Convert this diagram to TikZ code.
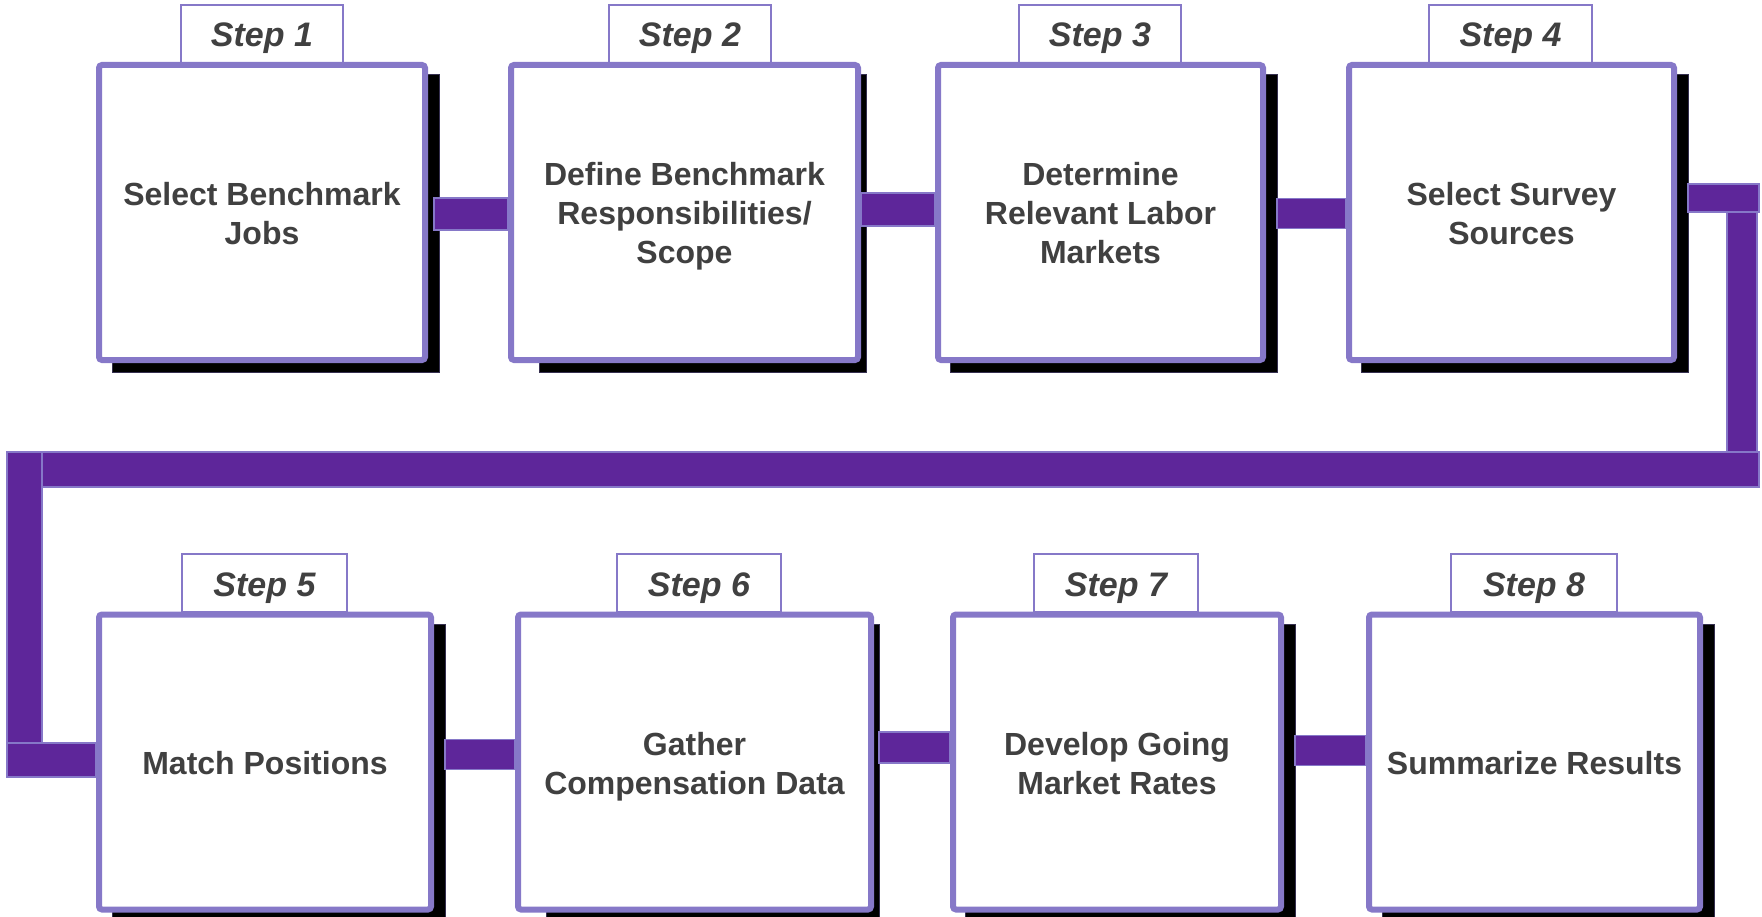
\documentclass[tikz,border=0pt]{standalone}
\usepackage{fontspec}
\setmainfont{Liberation Sans}
\usetikzlibrary{calc,backgrounds}
\definecolor{frame}{RGB}{134,120,200}
\definecolor{barfill}{RGB}{94,38,154}
\definecolor{ink}{RGB}{64,64,64}
% fixed line extent so every box centres its lines alike
\newcommand\ls{\rule[-7pt]{0pt}{39pt}}
\tikzset{
  stepbox/.style={draw=frame, line width=6pt, fill=white, rounded corners=3pt,
    minimum height=295pt, text=ink, align=center, inner sep=0pt,
    font=\bfseries\fontsize{32}{39}\selectfont},
  steptab/.style={draw=frame, line width=2pt, fill=white, minimum height=58pt,
    text=ink, inner sep=0pt, text height=26pt, text depth=0pt,
    font=\bfseries\itshape\fontsize{34}{40}\selectfont},
  shadowbox/.style={fill=black, draw=black!60!frame, line width=1pt},
  bar/.style={fill=barfill, draw=frame, line width=1.2pt},
}
\begin{document}
\begin{tikzpicture}[x=1pt, y=-1pt]
\useasboundingbox (0,0) rectangle (1762,917);

% tabs above each step box
\node[steptab, minimum width=162pt] (t1) at (262,34) {Step 1};
\node[steptab, minimum width=162pt] (t2) at (690,34) {Step 2};
\node[steptab, minimum width=162pt] (t3) at (1100,34) {Step 3};
\node[steptab, minimum width=163pt] (t4) at (1510.5,34) {Step 4};
\node[steptab, minimum width=165pt] (t5) at (264.5,583) {Step 5};
\node[steptab, minimum width=164pt] (t6) at (699,583) {Step 6};
\node[steptab, minimum width=164pt] (t7) at (1116,583) {Step 7};
\node[steptab, minimum width=166pt] (t8) at (1534,583) {Step 8};

% step boxes, top row
\node[stepbox, minimum width=326pt] (b1) at (262,212.5) {\ls Select Benchmark\\Jobs\ls};
\node[stepbox, minimum width=347pt] (b2) at (684.5,212.5) {\ls Define Benchmark\\Responsibilities/\\Scope\ls};
\node[stepbox, minimum width=325pt] (b3) at (1100.5,212.5) {\ls Determine\\Relevant Labor\\Markets\ls};
\node[stepbox, minimum width=325pt] (b4) at (1511.5,212.5) {\ls Select Survey\\Sources\ls};
% step boxes, bottom row
\node[stepbox, minimum width=332pt] (b5) at (265,762) {\ls Match Positions\ls};
\node[stepbox, minimum width=353pt] (b6) at (694.5,762) {\ls Gather\\Compensation Data\ls};
\node[stepbox, minimum width=328pt] (b7) at (1117,762) {\ls Develop Going\\Market Rates\ls};
\node[stepbox, minimum width=331pt] (b8) at (1534.5,762) {\ls Summarize Results\ls};

% drop shadows behind the boxes (left inset / right overhang per box)
\begin{pgfonlayer}{background}
  \foreach \b/\l/\r in {b1/16/11, b2/31/5, b3/15/11, b4/15/11,
                        b5/16/11, b6/31/5, b7/15/11, b8/16/11}
    \draw[shadowbox] ($(\b.north west)+(\l,13)$) rectangle ($(\b.south east)+(\r,9)$);
\end{pgfonlayer}

% connectors between neighbouring boxes
\draw[bar] ($(b1.east)+(6,-14.5)$) rectangle ($(b2.west)+(0,17.5)$);
\draw[bar] ($(b2.east)+(0.5,-19.5)$) rectangle ($(b3.west)+(0,13.5)$);
\draw[bar] ($(b3.east)+(11,-14)$) rectangle ($(b4.west)+(0,16)$);
\draw[bar] ($(b5.east)+(11,-22.5)$) rectangle ($(b6.west)+(0,7.5)$);
\draw[bar] ($(b6.east)+(5,-30)$) rectangle ($(b7.west)+(0,1)$);
\draw[bar] ($(b7.east)+(11,-26.5)$) rectangle ($(b8.west)+(0,3.5)$);

% return line from step 4 down to step 5
\coordinate (rtop) at (1759,184);
\coordinate (rdown) at (1727,212);
\coordinate (lane) at (7,452);
\coordinate (laneend) at (1759,487);
\coordinate (ldown) at (42,743);
\draw[bar] ($(b4.east)+(11,-28.5)$) rectangle (rtop |- rdown);
\draw[bar] (rdown) rectangle (1757,452);
\draw[bar] (lane) rectangle (laneend);
\draw[bar] (lane) rectangle (ldown);
\draw[bar] (7,743) rectangle ($(b5.west)+(0,15)$);
\end{tikzpicture}
\end{document}
